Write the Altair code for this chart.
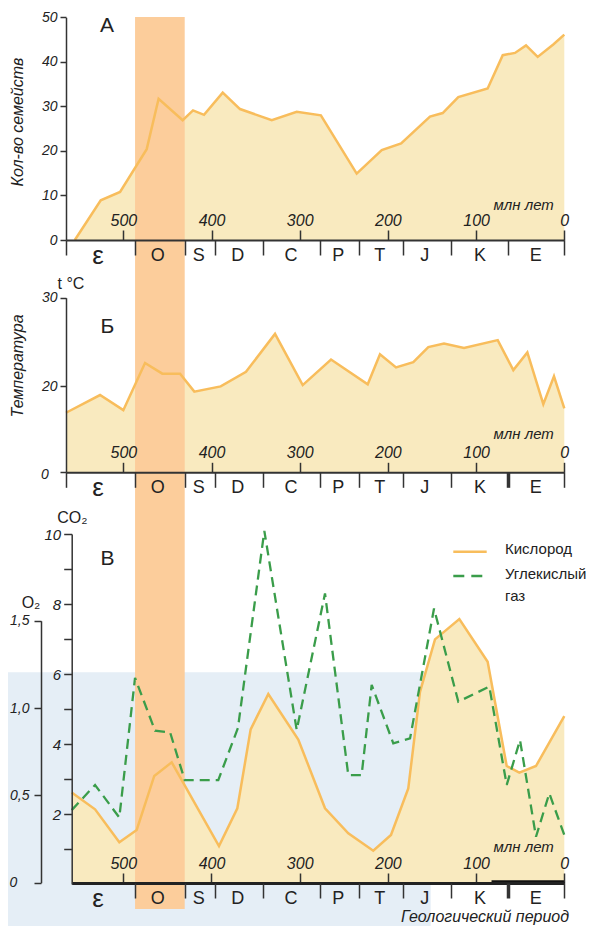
import altair as alt
import pandas as pd

# ---------------- data (ages in million years) ----------------
# Panel A: number of families
age_fam = [555, 525.6, 503.7, 473.5, 460, 432.7, 421, 408.5, 387.3, 367.7, 331.7, 303.4,
           276, 235.4, 207, 185, 152.3, 137.9, 120.2, 86.9, 69.8, 55.9, 43.4, 30.2, 12.5, 0]
families = [0, 8.9, 10.8, 20.4, 31.7, 26.9, 29.1, 28.1, 33.1, 29.4, 26.9, 28.8,
            28.0, 14.9, 20.2, 21.7, 27.7, 28.5, 32.1, 34.0, 41.5, 42.0, 43.7, 41.1, 43.9, 46.1]

# Panel Б: temperature (broken axis 0 | 20 | 30)
age_temp = [565, 526.4, 500, 475.4, 455.8, 435.7, 419.5, 389.6, 360.9, 328, 296.6, 264.5,
            222.9, 209, 190.8, 171.2, 154.2, 136.4, 113.7, 75.5, 57.8, 41.9, 23.8, 11.7, 0]
temperature = [13.8, 17.9, 14.4, 22.6, 21.4, 21.4, 18.7, 19.9, 21.6, 25.9, 20.1, 23.0,
               20.2, 23.6, 22.1, 22.7, 24.4, 24.8, 24.3, 25.2, 21.8, 23.8, 15.8, 21.1, 14.8]

# Panel В: oxygen and carbon dioxide
age_o2 = [558.5, 532, 504.5, 484.8, 464.9, 445.1, 391.5, 370.7, 355.6, 335.6, 301.6, 271.3,
          244.9, 216.6, 196.5, 176.9, 163.6, 146.6, 119, 86.9, 65.3, 51, 32.1, 0]
oxygen = [0.517, 0.42, 0.231, 0.302, 0.611, 0.689, 0.21, 0.426, 0.878, 1.08, 0.82, 0.426,
          0.283, 0.183, 0.273, 0.54, 1.093, 1.393, 1.509, 1.265, 0.668, 0.63, 0.668, 0.954]
age_co2 = [558.5, 532, 504.5, 486.7, 464, 446.9, 430.4, 392.3, 370, 340.1, 303.4, 271.3,
           244.9, 229.8, 218.4, 193.9, 174.9, 147.7, 120.2, 85, 65.3, 50.2, 32.1, 17, 0]
co2 = [2.11, 2.83, 1.9, 5.89, 4.38, 4.33, 2.97, 2.97, 4.46, 10.09, 4.4, 8.3,
       3.11, 3.11, 5.69, 4.02, 4.16, 7.87, 5.21, 5.64, 2.83, 4.11, 1.35, 2.59, 1.4]

# Geological periods
period_names = ["ε", "O", "S", "D", "C", "P", "T", "J", "K", "E"]
period_label_age = [528.7, 460.9, 414.4, 370.2, 309.9, 256.2, 209.3, 158.3, 95.6, 32.3]
period_bounds = [565, 486.7, 430.4, 396, 341.9, 277, 232.8, 182.5, 128.8, 63.5, 0]
period_bounds_v = [558.5, 486.7, 430.4, 396, 341.9, 277, 232.8, 182.5, 128.8, 63.5, 0]
ordovician_start = [486.7]
ordovician_end = [430.4]
cenozoic_start = [82.5]
cenozoic_end = [0]
age_ticks = [500, 400, 300, 200, 100, 0]

# ---------------- styling ----------------
W, H = 581, 918
FONT = "Liberation Sans"
NARROW = "Liberation Sans Narrow, Arial Narrow, Liberation Sans"
FILL = "#F9EABF"
LINE = "#F8BD5C"
BAND = "#FCCD9B"
BLUE = "#E5EEF6"
GREEN = "#3A9D4A"
INK = "#222222"
AXC = "#333333"

fam_df = pd.DataFrame({"age": age_fam, "v": families})
temp_df = pd.DataFrame({"age": age_temp, "v": temperature})
o2_df = pd.DataFrame({"age": age_o2, "v": oxygen})
co2_df = pd.DataFrame({"age": age_co2, "v": co2})
per_df = pd.DataFrame({"name": period_names, "age": period_label_age})
bnd_df = pd.DataFrame({"age": period_bounds})
bndv_df = pd.DataFrame({"age": period_bounds_v})
band_df = pd.DataFrame({"start": ordovician_start, "end": ordovician_end})
ceno_df = pd.DataFrame({"start": cenozoic_start, "end": cenozoic_end})
one = pd.DataFrame({"k": [0]})

xA = alt.Scale(domain=[0, 565], range=[556.3, 58.0], nice=False, zero=False)
xV = alt.Scale(domain=[0, 558.5], range=[556.3, 63.7], nice=False, zero=False)
yA = alt.Scale(domain=[0, 50], range=[232, 9.3], nice=False)
yT = alt.Scale(domain=[0, 20, 30], range=[464.3, 378, 289.7], nice=False)
yO = alt.Scale(domain=[0, 1.5], range=[874.7, 612.7], nice=False)
yC = alt.Scale(domain=[0, 10], range=[876, 526], nice=False)

AX = dict(labelFont=FONT, labelFontStyle="italic", labelColor=INK, tickColor=AXC,
          domainColor=AXC, grid=False, title=None, zindex=1, labelFlush=False,
          labelOverlap=False)


def top_axis(offset, dw=2.0, dc=AXC):
    d = dict(AX)
    d["domainColor"] = dc
    return alt.Axis(orient="top", offset=offset, values=age_ticks, tickSize=10, tickWidth=1.5,
                    labelPadding=2, labelFontSize=16, domainWidth=dw, format="d", **d)


def period_axis(ypos, thick):
    tw = {"condition": {"test": "datum.value == 63.5", "value": 3.5}, "value": 1.5} if thick else 1.5
    return alt.Axis(orient="bottom", offset=ypos - H, values=period_bounds, tickSize=15,
                    tickWidth=tw, tickColor=AXC, labels=False, domain=False, grid=False,
                    title=None, zindex=1)


def y_axis(offset, values, tick, pad, size, expr=None):
    kw = dict(orient="left", offset=offset, values=values, tickSize=tick, tickWidth=1.5,
              labelPadding=pad, labelFontSize=size, domainWidth=1.5, **AX)
    if expr:
        kw["labelExpr"] = expr
    return alt.Axis(**kw)


def txt(s, x, y, size, style="normal", angle=0, align="center", font=FONT, baseline="middle"):
    return alt.Chart(one).mark_text(text=s, fontSize=size, fontStyle=style, font=font,
                                    angle=angle, align=align, baseline=baseline,
                                    color=INK).encode(x=alt.value(x), y=alt.value(y))


def per_labels(scale, ypix):
    return alt.Chart(per_df).mark_text(font=NARROW, color=INK, baseline="middle").encode(
        x=alt.X("age:Q", scale=scale, axis=None), y=alt.value(ypix), text="name:N",
        size=alt.condition("datum.name == 'ε'", alt.value(26), alt.value(18)))


def carrier(df, scale, axis):
    return alt.Chart(df).mark_point(opacity=0).encode(x=alt.X("age:Q", scale=scale, axis=axis))


blue = alt.Chart(one).mark_rect(color=BLUE).encode(
    x=alt.value(0), x2=alt.value(422.7), y=alt.value(664.3), y2=alt.value(940))

areaA = alt.Chart(fam_df).mark_area(color=FILL).encode(
    x=alt.X("age:Q", scale=xA, axis=top_axis(-232)),
    y=alt.Y("v:Q", scale=yA, axis=y_axis(-58, [0, 10, 20, 30, 40, 50], 6, 3, 14)),
    y2=alt.datum(0))
areaT = alt.Chart(temp_df).mark_area(color=FILL).encode(
    x=alt.X("age:Q", scale=xA, axis=top_axis(-464.3)),
    y=alt.Y("v:Q", scale=yT, axis=y_axis(-58, [0, 20, 30], 6, 3, 14,
                                          "datum.value == 0 ? '' : datum.label")),
    y2=alt.datum(0))
areaO = alt.Chart(o2_df).mark_area(color=FILL).encode(
    x=alt.X("age:Q", scale=xV, axis=top_axis(-875, 3, "#222222")),
    y=alt.Y("v:Q", scale=yO, axis=y_axis(
        -33, [0, 0.5, 1.0, 1.5], 7, 5, 14,
        "datum.value == 0 ? '' : replace(format(datum.value, '.1f'), '.', ',')")),
    y2=alt.datum(0))

band = alt.Chart(band_df).mark_rect(color=BAND).encode(
    x=alt.X("start:Q", scale=xA, axis=None), x2="end:Q",
    y=alt.value(9), y2=alt.value(901))

lineA = alt.Chart(fam_df).mark_line(color=LINE, strokeWidth=2.5).encode(
    x=alt.X("age:Q", scale=xA, axis=None), y=alt.Y("v:Q", scale=yA, axis=None))
lineT = alt.Chart(temp_df).mark_line(color=LINE, strokeWidth=2.5).encode(
    x=alt.X("age:Q", scale=xA, axis=None), y=alt.Y("v:Q", scale=yT, axis=None))
lineO = alt.Chart(o2_df).mark_line(color=LINE, strokeWidth=2.5).encode(
    x=alt.X("age:Q", scale=xV, axis=None), y=alt.Y("v:Q", scale=yO, axis=None))
lineC = alt.Chart(co2_df).mark_line(color=GREEN, strokeWidth=2.3, strokeDash=[10, 6]).encode(
    x=alt.X("age:Q", scale=xV, axis=None),
    y=alt.Y("v:Q", scale=yC, axis=y_axis(-63.7, list(range(1, 11)), 8, 3, 15,
                                          "datum.value % 2 == 0 ? datum.label : ''")))

ceno = alt.Chart(ceno_df).mark_rule(color="#111111", strokeWidth=4.5).encode(
    x=alt.X("start:Q", scale=xV, axis=None), x2="end:Q", y=alt.value(874.5))

carA = carrier(bnd_df, xA, period_axis(232, False))
carT = carrier(bnd_df, xA, period_axis(464.3, True))
carV = carrier(bndv_df, xV, period_axis(875, True))

legend_o2 = alt.Chart(one).mark_rule(color=LINE, strokeWidth=2.5).encode(
    x=alt.value(445.3), x2=alt.value(478.7), y=alt.value(543.7))
legend_co2 = alt.Chart(one).mark_rule(color=GREEN, strokeWidth=2.3, strokeDash=[11, 7]).encode(
    x=alt.value(445.3), x2=alt.value(478.7), y=alt.value(568))

texts = [
    txt("А", 99, 18, 21), txt("Б", 99.5, 318.5, 21), txt("В", 99.5, 551, 21),
    txt("Кол-во семейств", 10, 114, 16, "italic", 270),
    txt("Температура", 10, 358, 16, "italic", 270),
    txt("t °C", 63, 276, 16),
    txt("CO₂", 64.3, 509.5, 16), txt("O₂", 23, 595, 16),
    txt("0", 37, 466.5, 14, "italic"), txt("0", 5.5, 875, 14, "italic"),
    txt("млн лет", 515.7, 197, 15, "italic"), txt("млн лет", 515.7, 426, 15, "italic"),
    txt("млн лет", 515.7, 839, 15, "italic"),
    txt("Кислород", 497, 541, 15, align="left"),
    txt("Углекислый", 497, 566, 15, align="left"),
    txt("газ", 497, 588, 15, align="left"),
    txt("Геологический период", 477, 913.5, 16, "italic", baseline="alphabetic"),
]

chart = alt.layer(
    blue, areaA, areaT, areaO, band, lineA, lineT, lineO, lineC, ceno,
    carA, carT, carV,
    per_labels(xA, 248), per_labels(xA, 480), per_labels(xV, 891),
    legend_o2, legend_co2, *texts
).resolve_scale(x="independent", y="independent").properties(
    width=W, height=H, autosize=alt.AutoSizeParams(type="none"),
    padding={"left": 0, "top": 0, "right": 0, "bottom": 0}
).configure_view(stroke=None)

chart.save("out.html", embed_options={"renderer": "svg", "actions": False})
